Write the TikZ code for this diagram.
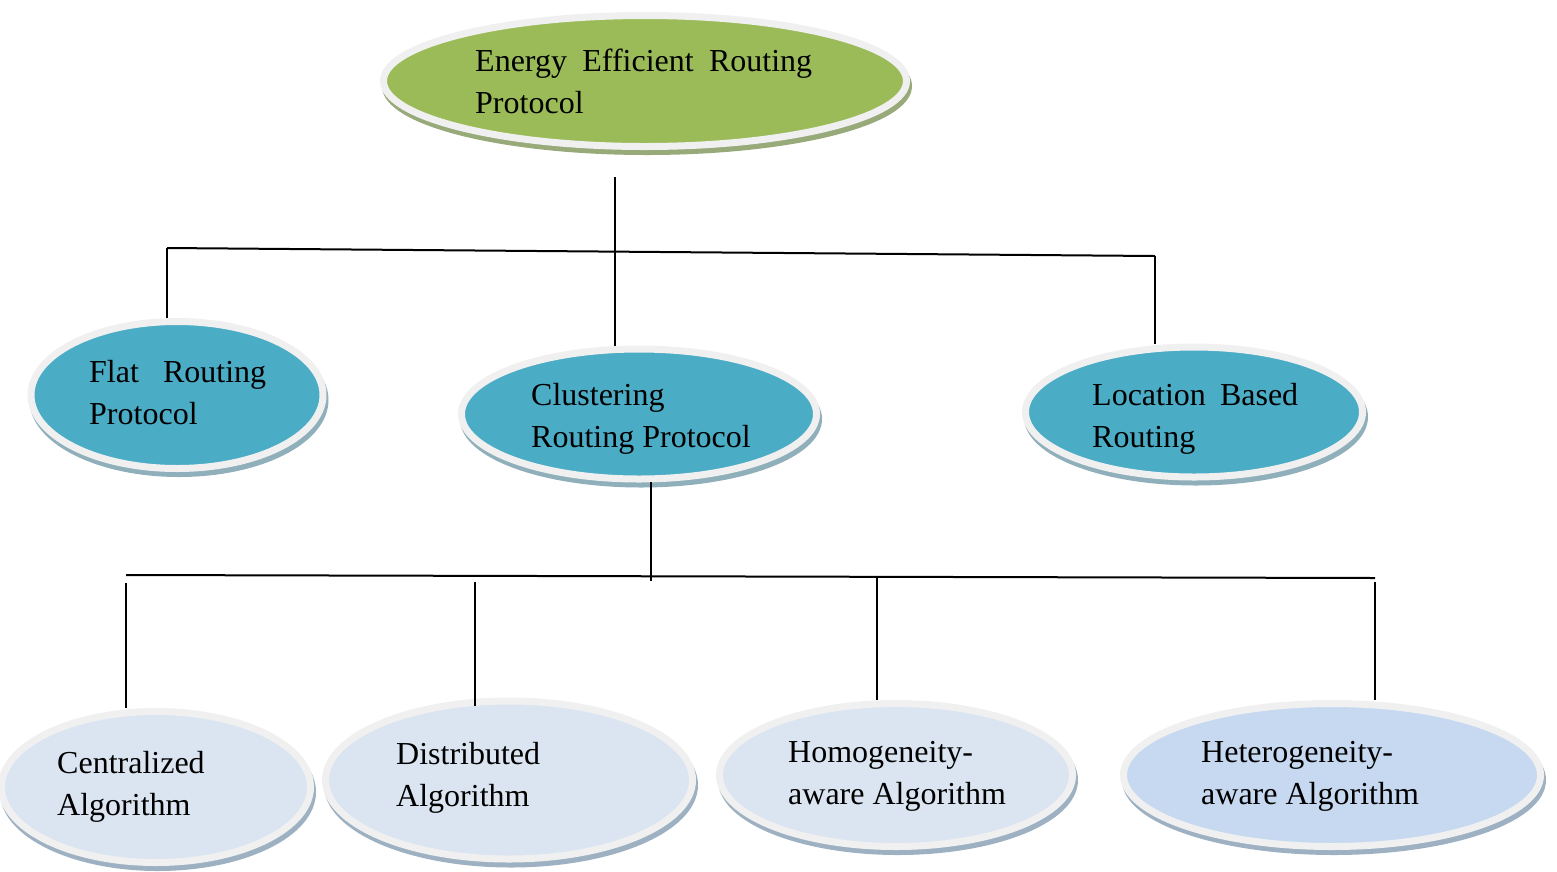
\documentclass[tikz,border=0pt]{standalone}
\usepackage{fontspec}
\setmainfont{Liberation Serif}
\usetikzlibrary{shapes.geometric}

\definecolor{leaf}{HTML}{9BBB59}
\definecolor{leafshade}{HTML}{98A97A}
\definecolor{sea}{HTML}{4BACC6}
\definecolor{seashade}{HTML}{8FAFBB}
\definecolor{mist}{HTML}{DBE5F1}
\definecolor{sky}{HTML}{C6D9F1}
\definecolor{mistshade}{HTML}{9DB1C2}
\definecolor{ring}{HTML}{F0F0F0}

\begin{document}
\begin{tikzpicture}[x=1pt, y=-1pt,
	bubble/.style={ellipse, draw=ring, line width=7pt, inner sep=0pt,
		preaction={draw=#1, fill=#1, transform canvas={xshift=2pt, yshift=-5pt}}},
	caption/.style={anchor=base west, align=left, inner sep=0pt,
		font=\fontsize{32}{42}\selectfont},
	wire/.style={line width=2pt, black}
	]
	\useasboundingbox (0,0) rectangle (1557,871);

	\node [bubble=leafshade, fill=leaf, minimum width=523, minimum height=131] (energy) at (645,81) {};
	\node [bubble=seashade, fill=sea, minimum width=292, minimum height=147] (flat) at (177,395) {};
	\node [bubble=seashade, fill=sea, minimum width=355, minimum height=130] (clust) at (639,414) {};
	\node [bubble=seashade, fill=sea, minimum width=337, minimum height=130] (loc) at (1194,412) {};
	\node [bubble=mistshade, fill=mist, minimum width=309, minimum height=151] (cent) at (156,787) {};
	\node [bubble=mistshade, fill=mist, minimum width=367, minimum height=158] (dist) at (509,780) {};
	\node [bubble=mistshade, fill=mist, minimum width=353, minimum height=143] (homo) at (896,775) {};
	\node [bubble=mistshade, fill=sky, minimum width=417, minimum height=143] (hetero) at (1332,775) {};

	% anchored at the baseline of the last line
	\node [caption] (energy text) at (475,113) {\makebox[337pt][s]{Energy Efficient Routing}\\Protocol};
	\node [caption] (flat text) at (89,424) {\makebox[177pt][s]{Flat Routing}\\Protocol};
	\node [caption] (clust text) at (531,447) {Clustering\\Routing Protocol};
	\node [caption] (loc text) at (1092,447) {\makebox[206pt][s]{Location Based}\\Routing};
	\node [caption] (cent text) at (57,815) {Centralized\\Algorithm};
	\node [caption] (dist text) at (396,806) {Distributed\\Algorithm};
	\node [caption] (homo text) at (788,804) {Homogeneity-\\aware Algorithm};
	\node [caption] (hetero text) at (1201,804) {Heterogeneity-\\aware Algorithm};

	% upper bus
	\coordinate (energy foot) at (615,177);
	\coordinate (bus1 l) at (167,248);
	\coordinate (bus1 r) at (1155,256);
	\draw [wire] (energy foot) -- (energy foot |- clust.north);
	\draw [wire] (bus1 l) -- (bus1 r);
	\draw [wire] (bus1 l) -- (bus1 l |- flat.north);
	\draw [wire] (bus1 r) -- (bus1 r |- loc.north);

	% lower bus
	\coordinate (clust foot) at (651,482);
	\coordinate (bus2 mid) at (651,581);
	\coordinate (bus2 l) at (126,575);
	\coordinate (bus2 r) at (1375,578);
	\coordinate (cent top) at (126,583);
	\coordinate (dist top) at (475,582);
	\coordinate (homo top) at (877,578);
	\coordinate (hetero top) at (1375,582);
	\draw [wire] (clust foot) -- (bus2 mid);
	\draw [wire] (bus2 l) -- (bus2 r);
	\draw [wire] (cent top) -- (cent top |- cent.north);
	\draw [wire] (dist top) -- ([yshift=-8pt]dist top |- dist.north);
	\draw [wire] (homo top) -- (homo top |- homo.north);
	\draw [wire] (hetero top) -- (hetero top |- hetero.north);
\end{tikzpicture}
\end{document}
